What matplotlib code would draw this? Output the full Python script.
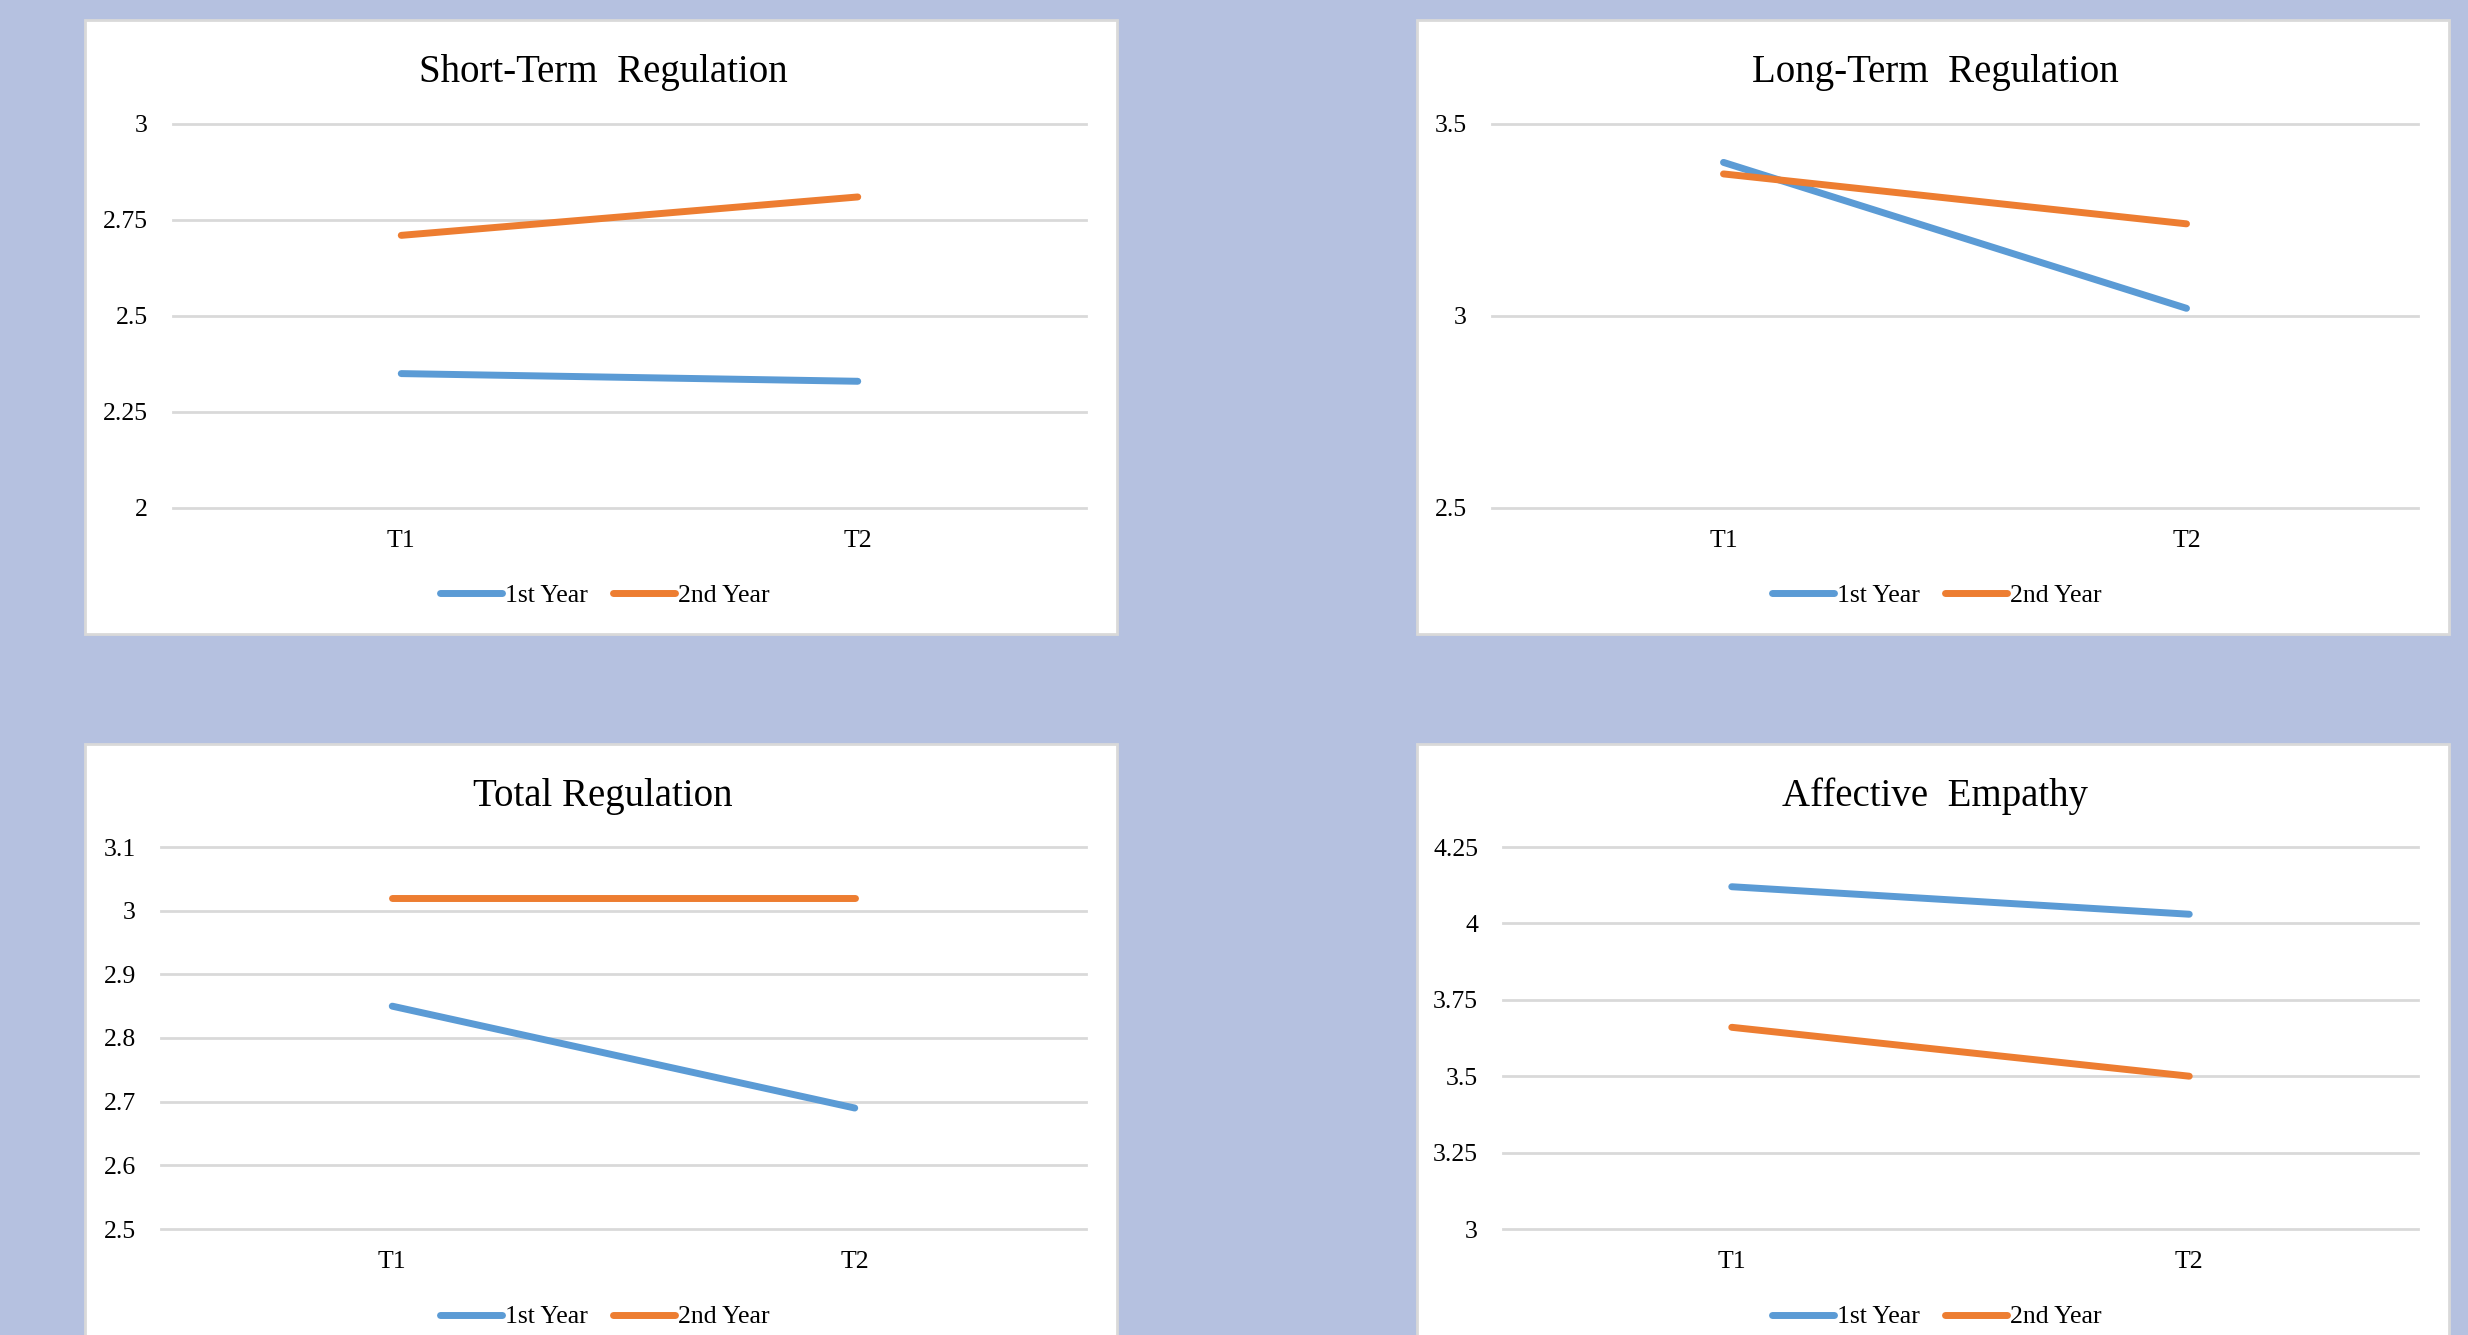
import matplotlib
matplotlib.use('Agg')
import matplotlib.pyplot as plt
from matplotlib.patches import Rectangle
from matplotlib.ticker import FormatStrFormatter

# Mean scores at the two measurement points
periods = ['T1', 'T2']
series_names = ['1st Year', '2nd Year']

short_first = [2.35, 2.33]
short_second = [2.71, 2.81]
long_first = [3.40, 3.02]
long_second = [3.37, 3.24]
total_first = [2.85, 2.69]
total_second = [3.02, 3.02]
affect_first = [4.12, 4.03]
affect_second = [3.66, 3.50]

short_ticks = [2, 2.25, 2.5, 2.75, 3]
long_ticks = [2.5, 3, 3.5]
total_ticks = [2.5, 2.6, 2.7, 2.8, 2.9, 3.0, 3.1]
affect_ticks = [3, 3.25, 3.5, 3.75, 4, 4.25]

BLUE = '#5B9BD5'
ORANGE = '#ED7D31'
GRID = '#D9D9D9'
BG = '#B5C1E0'

W, H = 2468, 1335
plt.rcParams['font.family'] = ['Liberation Serif', 'DejaVu Serif']

fig = plt.figure(figsize=(W / 100, H / 100), dpi=100, facecolor=BG)


def fx(px):
    return px / W


def fy(px):
    return 1 - px / H


# (title, first, second, ticks, card box px, plot box px)
panels = [
    ('Short-Term  Regulation', short_first, short_second, short_ticks,
     (85, 20, 1117, 634), (173, 124, 1086, 508)),
    ('Long-Term  Regulation', long_first, long_second, long_ticks,
     (1417, 20, 2449, 634), (1492, 124, 2418, 508)),
    ('Total Regulation', total_first, total_second, total_ticks,
     (85, 744, 1117, 1400), (161, 847, 1086, 1229)),
    ('Affective  Empathy', affect_first, affect_second, affect_ticks,
     (1417, 744, 2449, 1400), (1503, 847, 2418, 1229)),
]

for title, first, second, ticks, card, box in panels:
    cx0, cy0, cx1, cy1 = card
    fig.add_artist(Rectangle((fx(cx0), fy(cy1)), fx(cx1 - cx0), (cy1 - cy0) / H,
                             transform=fig.transFigure, facecolor='white',
                             edgecolor=GRID, linewidth=2, zorder=0))

    x0, y0, x1, y1 = box
    ax = fig.add_axes([fx(x0), fy(y1), fx(x1 - x0), (y1 - y0) / H])
    ax.set_facecolor('none')
    for s in ax.spines.values():
        s.set_visible(False)

    xs = range(len(periods))
    ax.plot(xs, first, color=BLUE, lw=5, solid_capstyle='round', label=series_names[0], zorder=3)
    ax.plot(xs, second, color=ORANGE, lw=5, solid_capstyle='round', label=series_names[1], zorder=3)

    ax.set_xlim(-0.5, len(periods) - 0.5)
    ax.set_ylim(ticks[0], ticks[-1])
    ax.set_xticks(list(xs))
    ax.set_xticklabels(periods)
    ax.set_yticks(ticks)
    ax.yaxis.set_major_formatter(FormatStrFormatter('%g'))
    ax.tick_params(length=0, labelsize=18.5, colors='black')
    ax.tick_params(axis='y', pad=18)
    ax.tick_params(axis='x', pad=16)
    ax.grid(axis='y', color=GRID, lw=2)
    ax.set_axisbelow(True)
    for gl in ax.get_ygridlines():
        gl.set_clip_on(False)

    mid = (cx0 + cx1) / 2
    fig.text(fx(mid + 2), fy(cy0 + 62), title, ha='center', va='baseline', fontsize=28)
    ax.legend(loc='center', bbox_to_anchor=(fx(mid + 4), fy(y1 + 88)),
              bbox_transform=fig.transFigure, ncol=2, frameon=False,
              fontsize=18.5, handlelength=2.4, handletextpad=0.12,
              columnspacing=1.0, borderpad=0)

fig.savefig('out.png', dpi=100, facecolor=BG)
